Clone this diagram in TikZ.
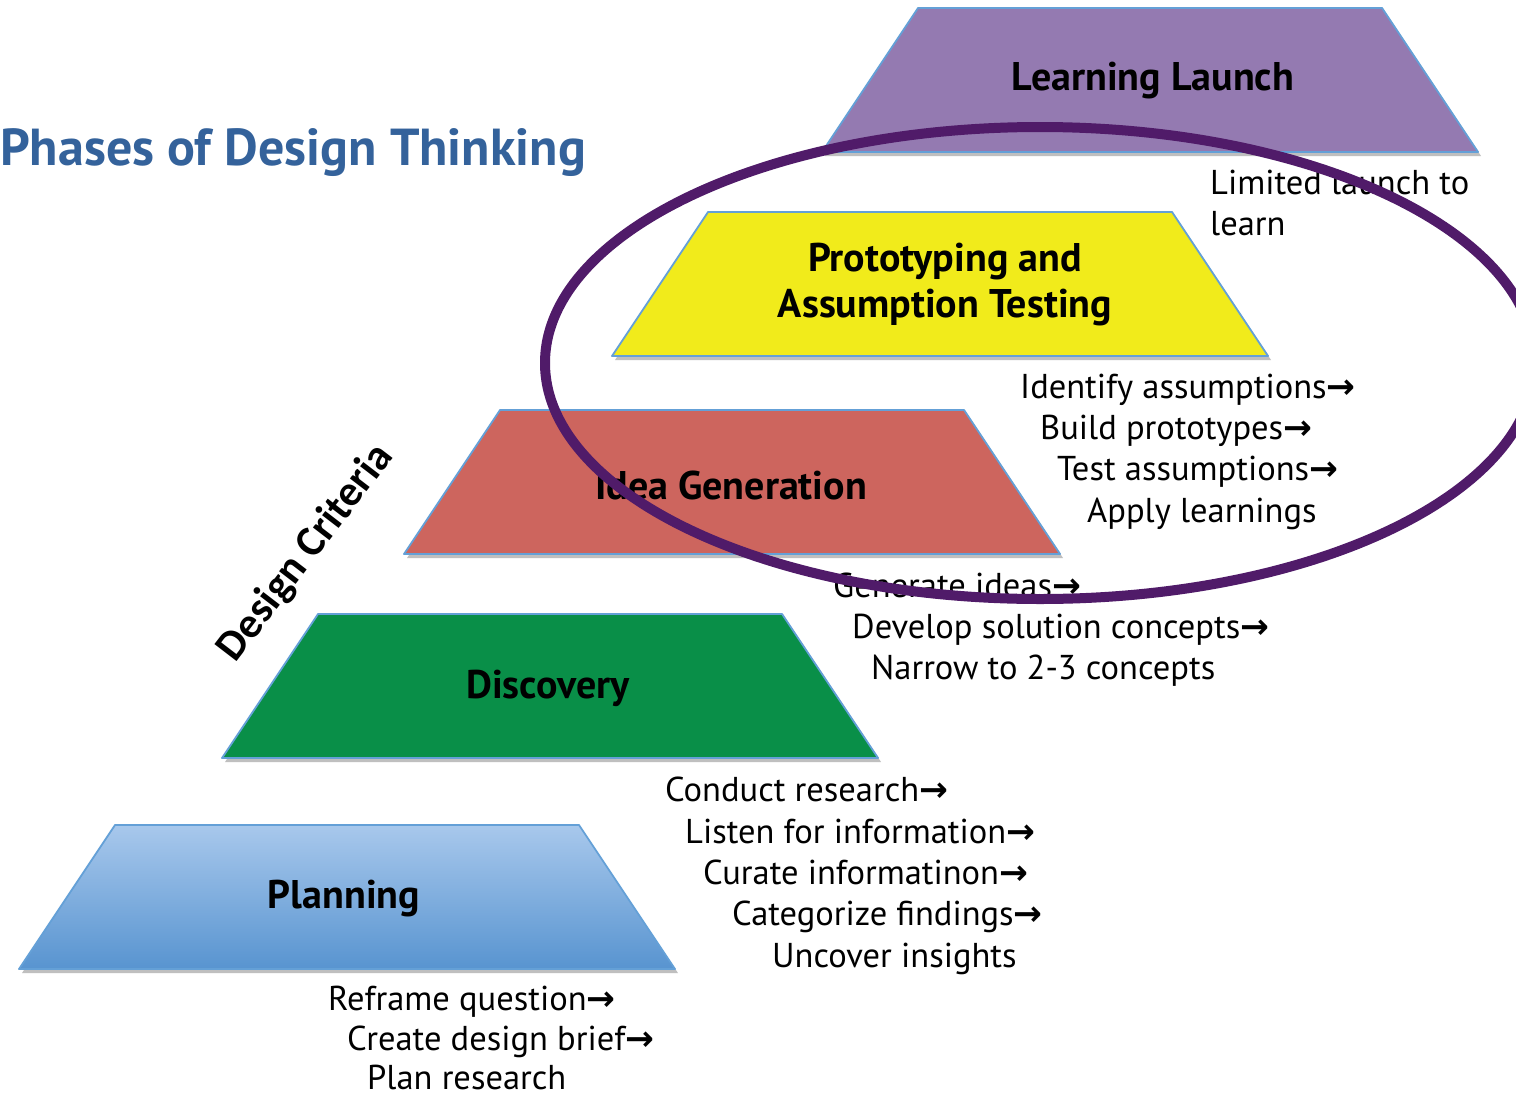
\documentclass[tikz,border=0pt]{standalone}
\usepackage{fontspec}
\setmainfont{PT Sans}
\newfontfamily\calfont{Carlito}
\newfontfamily\arrfont{DejaVu Sans}
\definecolor{llpurple}{RGB}{148,122,177}
\definecolor{ptyellow}{RGB}{241,235,27}
\definecolor{igred}{RGB}{205,101,94}
\definecolor{dgreen}{RGB}{9,143,72}
\definecolor{pltop}{RGB}{168,200,236}
\definecolor{plbot}{RGB}{88,148,208}
\definecolor{edgeblue}{RGB}{100,160,215}
\definecolor{ringpurple}{RGB}{80,27,105}
\definecolor{titleblue}{RGB}{52,98,155}
\newcommand\arw{{\arrfont\bfseries →}}
\newcommand\trap[3]{%
 \fill[black!45,opacity=.55] ({#1+3},{-#2-4}) -- ({#1+467},{-#2-4}) -- ({#1+563},{-#2-148}) -- ({#1-93},{-#2-148}) -- cycle;
 \path[#3, draw=edgeblue, line width=1.8, line join=round] (#1,-#2) -- ({#1+464},-#2) -- ({#1+560},{-#2-144}) -- ({#1-96},{-#2-144}) -- cycle;}
\tikzset{
 lab/.style={font=\bfseries\fontsize{40}{46}\selectfont, align=center, inner sep=0pt, text=black},
 item/.style={anchor=base west, font=\fontsize{34.5}{40}\selectfont, inner sep=0pt, text=black},
 ring/.style={draw=ringpurple, line width=10}
}
\begin{document}
\begin{tikzpicture}[x=1pt,y=1pt]
\useasboundingbox (0,0) rectangle (1516,-1095);
\clip (0,0) rectangle (1516,-1095);
\fill[white] (0,0) rectangle (1516,-1095);

% trapezoids
\trap{918}{8}{fill=llpurple}
\trap{708}{212}{fill=ptyellow}
\trap{500}{410}{fill=igred}
\trap{318}{614}{fill=dgreen}
\trap{115}{825}{top color=pltop, bottom color=plbot}

% labels
\node[lab] (ll) at (1153,-81) {Learning Launch};
\node[lab] (pt) at (945,-285) {Prototyping and\\Assumption Testing};
\node[lab] (ig) at (731,-485) {Idea Generation};
\node[lab] (di) at (548,-688) {Discovery};
\node[lab] (pl) at (344,-899) {Planning};

\node[anchor=west, inner sep=0pt, text=titleblue, font=\bfseries\fontsize{52}{58}\selectfont] (title) at (0,-153) {Phases of Design Thinking};

\node[rotate=52.5, inner sep=0pt, font=\calfont\bfseries\fontsize{43}{48}\selectfont] (dc) at (306,-553) {Design Criteria};

% step lists
\node[item] (l1) at (1210,-194) {Limited launch to};
\node[item] (l2) at (1210,-235) {learn};

\node[item] (p1) at (1020,-398) {Identify assumptions\arw};
\node[item] (p2) at (1040,-439) {Build prototypes\arw};
\node[item] (p3) at (1057,-480) {Test assumptions\arw};
\node[item] (p4) at (1087,-522) {Apply learnings};

\node[item] (i1) at (833,-597) {Generate ideas\arw};
\node[item] (i2) at (852,-638) {Develop solution concepts\arw};
\node[item] (i3) at (871,-679) {Narrow to 2-3 concepts};

\node[item] (d1) at (665,-801) {Conduct research\arw};
\node[item] (d2) at (685,-843) {Listen for information\arw};
\node[item] (d3) at (703,-884) {Curate informatinon\arw};
\node[item] (d4) at (732,-925) {Categorize findings\arw};
\node[item] (d5) at (772,-967) {Uncover insights};

\node[item] (r1) at (328,-1010) {Reframe question\arw};
\node[item] (r2) at (347,-1050) {Create design brief\arw};
\node[item] (r3) at (367,-1089) {Plan research};

% ring
\draw[ring] (1040,-363) ellipse [x radius=495, y radius=236];
\end{tikzpicture}
\end{document}
